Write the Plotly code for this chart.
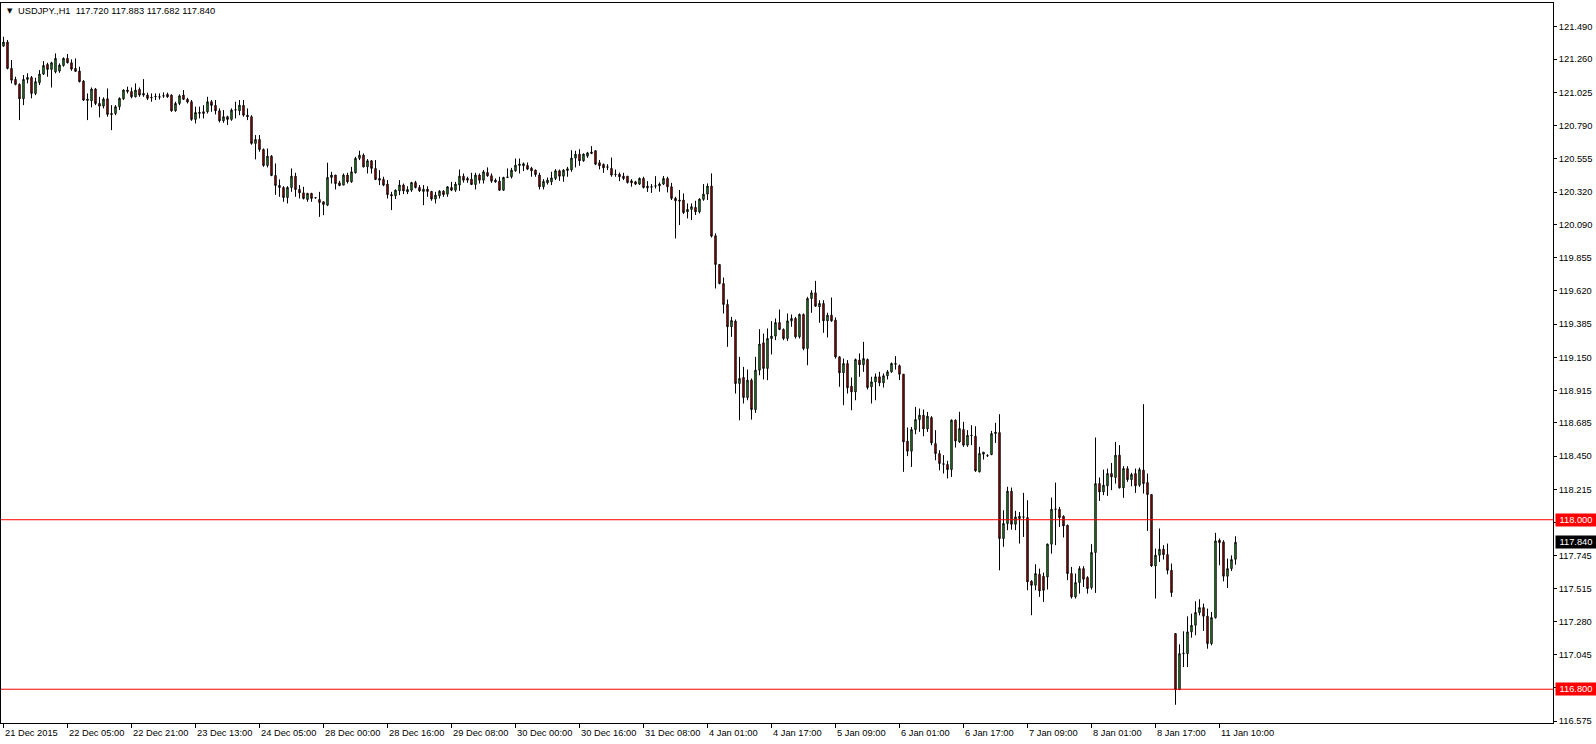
import plotly.graph_objects as go

# ---- data (USDJPY H1) ----
opens = [121.353,121.382,121.195,121.117,121.082,120.980,121.117,121.131,121.018,121.094,
121.155,121.223,121.188,121.171,121.176,121.216,121.266,121.235,121.195,121.176,
121.105,120.968,120.966,121.049,120.947,120.928,120.980,120.876,120.876,120.924,
120.980,121.042,121.032,120.994,121.046,121.018,121.006,120.990,120.994,120.994,
120.999,121.011,121.006,120.895,120.947,121.006,120.976,120.959,120.834,120.876,
120.888,120.888,120.959,120.933,120.895,120.824,120.853,120.834,120.900,120.895,
120.933,120.864,120.853,120.664,120.692,120.621,120.508,120.574,120.437,120.366,
120.352,120.281,120.352,120.432,120.338,120.314,120.267,120.310,120.280,120.267,
120.251,120.227,120.423,120.440,120.385,120.369,120.440,120.392,120.456,120.558,
120.581,120.498,120.541,120.487,120.416,120.409,120.376,120.302,120.293,120.328,
120.369,120.321,120.333,120.387,120.352,120.324,120.340,120.324,120.270,120.293,
120.326,120.305,120.352,120.333,120.369,120.432,120.416,120.411,120.373,120.440,
120.404,120.458,120.435,120.404,120.397,120.333,120.423,120.428,120.470,120.508,
120.506,120.508,120.489,120.475,120.440,120.357,120.385,120.392,120.416,120.470,
120.432,120.472,120.477,120.560,120.588,120.541,120.574,120.593,120.612,120.527,
120.515,120.498,120.487,120.446,120.446,120.432,120.432,120.399,120.392,120.376,
120.416,120.361,120.357,120.364,120.364,120.376,120.416,120.357,120.275,120.263,
120.263,120.180,120.197,120.211,120.180,120.268,120.305,120.362,120.010,119.807,
119.672,119.524,119.366,119.406,118.964,119.007,118.865,118.988,118.780,119.059,
119.252,119.071,119.283,119.300,119.396,119.347,119.283,119.408,119.425,119.295,
119.453,119.212,119.566,119.606,119.507,119.531,119.408,119.448,119.413,119.153,
119.040,119.106,118.945,118.905,119.130,119.097,119.134,118.941,118.976,119.012,
118.969,119.019,119.047,119.106,119.090,119.030,118.556,118.485,118.638,118.709,
118.740,118.643,118.723,118.539,118.468,118.396,118.391,118.355,118.705,118.551,
118.638,118.528,118.598,118.591,118.339,118.464,118.452,118.461,118.610,118.617,
117.867,117.973,118.202,117.968,118.008,118.018,118.015,117.565,117.536,117.614,
117.600,117.595,117.827,118.074,118.074,118.025,117.961,117.619,117.454,117.555,
117.654,117.591,117.520,117.768,118.256,118.197,118.240,118.327,118.299,118.457,
118.226,118.362,118.284,118.327,118.244,118.351,118.263,118.178,117.673,117.749,
117.791,117.753,117.642,117.194,116.797,117.052,117.052,117.206,117.253,117.343,
117.378,117.317,117.123,117.307,117.855,117.843,117.600,117.654,117.720]

highs = [121.419,121.396,121.254,121.136,121.089,121.148,121.160,121.141,121.129,121.183,
121.247,121.235,121.242,121.301,121.230,121.273,121.297,121.259,121.266,121.207,
121.112,121.018,121.060,121.056,120.994,120.990,121.053,120.935,120.935,120.990,
121.046,121.065,121.060,121.089,121.060,121.119,121.023,121.018,121.018,121.018,
121.025,121.023,121.011,120.959,121.011,121.042,120.987,120.971,120.924,120.924,
120.935,120.994,120.971,120.971,120.912,120.900,120.860,120.912,120.959,120.971,
120.971,120.912,120.864,120.723,120.723,120.628,120.628,120.581,120.522,120.409,
120.361,120.361,120.487,120.456,120.369,120.357,120.314,120.314,120.283,120.321,
120.251,120.527,120.463,120.440,120.399,120.451,120.456,120.498,120.569,120.612,
120.593,120.553,120.546,120.546,120.475,120.428,120.404,120.321,120.338,120.404,
120.380,120.361,120.392,120.399,120.369,120.369,120.361,120.328,120.321,120.333,
120.333,120.361,120.392,120.392,120.479,120.451,120.428,120.456,120.456,120.451,
120.475,120.494,120.451,120.416,120.428,120.428,120.487,120.491,120.557,120.557,
120.529,120.529,120.498,120.479,120.456,120.411,120.423,120.463,120.482,120.479,
120.482,120.498,120.616,120.612,120.623,120.593,120.604,120.645,120.616,120.546,
120.522,120.517,120.564,120.479,120.458,120.456,120.432,120.411,120.399,120.423,
120.428,120.397,120.376,120.432,120.388,120.433,120.428,120.385,120.286,120.334,
120.310,120.239,120.239,120.258,120.275,120.376,120.381,120.452,120.027,119.810,
119.715,119.559,119.436,119.417,119.153,119.082,119.063,119.000,119.153,119.349,
119.318,119.354,119.406,119.425,119.488,119.354,119.460,119.453,119.436,119.460,
119.460,119.578,119.625,119.691,119.554,119.554,119.465,119.573,119.432,119.158,
119.141,119.130,119.007,119.141,119.177,119.259,119.141,119.012,119.035,119.047,
119.035,119.059,119.113,119.158,119.099,119.030,118.653,118.657,118.799,118.787,
118.780,118.763,118.733,118.634,118.492,118.457,118.417,118.710,118.710,118.764,
118.693,118.634,118.669,118.662,118.516,118.480,118.464,118.629,118.686,118.747,
118.067,118.233,118.228,118.063,118.055,118.190,118.138,117.572,117.685,117.654,
117.626,117.831,118.157,118.263,118.091,118.030,117.965,117.666,117.619,117.671,
117.671,117.600,117.827,118.582,118.299,118.355,118.362,118.402,118.551,118.528,
118.379,118.379,118.332,118.362,118.369,118.818,118.327,118.182,117.796,117.938,
117.820,117.831,117.690,117.198,117.118,117.210,117.316,117.335,117.423,117.437,
117.406,117.371,117.347,117.907,117.867,117.855,117.725,117.748,117.883]

lows = [121.348,121.188,121.089,121.075,120.829,120.935,121.089,120.983,121.006,121.077,
121.148,121.136,121.060,121.160,121.164,121.207,121.230,121.178,121.171,121.096,
120.964,120.829,120.919,120.935,120.848,120.912,120.853,120.758,120.864,120.900,
120.971,121.018,120.983,120.990,120.994,120.994,120.971,120.959,120.971,120.975,
120.987,120.987,120.888,120.888,120.935,120.971,120.947,120.824,120.805,120.841,
120.841,120.876,120.888,120.869,120.813,120.810,120.794,120.824,120.841,120.864,
120.853,120.829,120.655,120.551,120.605,120.498,120.494,120.432,120.300,120.286,
120.251,120.239,120.321,120.286,120.274,120.267,120.251,120.251,120.274,120.144,
120.156,120.220,120.380,120.338,120.361,120.369,120.380,120.385,120.451,120.546,
120.494,120.451,120.451,120.404,120.369,120.361,120.274,120.192,120.270,120.298,
120.305,120.305,120.321,120.345,120.321,120.227,120.286,120.258,120.239,120.274,
120.286,120.286,120.326,120.321,120.328,120.387,120.385,120.369,120.338,120.380,
120.380,120.428,120.385,120.385,120.328,120.328,120.418,120.416,120.463,120.451,
120.468,120.475,120.428,120.428,120.338,120.338,120.373,120.369,120.404,120.399,
120.392,120.428,120.463,120.494,120.506,120.534,120.562,120.588,120.510,120.480,
120.456,120.475,120.428,120.428,120.397,120.404,120.380,120.357,120.369,120.369,
120.345,120.321,120.314,120.345,120.322,120.369,120.317,120.263,119.991,120.086,
120.164,120.133,120.121,120.157,120.168,120.258,120.263,119.998,119.637,119.667,
119.460,119.224,119.295,118.893,118.704,118.823,118.846,118.709,118.756,119.023,
118.993,118.988,119.170,119.271,119.342,119.271,119.266,119.366,119.283,119.283,
119.200,119.094,119.465,119.507,119.394,119.323,119.290,119.401,119.141,118.941,
118.811,118.893,118.775,118.846,119.012,119.047,118.922,118.823,118.846,118.945,
118.936,118.993,119.040,119.063,118.988,118.339,118.450,118.374,118.605,118.622,
118.591,118.622,118.527,118.421,118.350,118.327,118.292,118.303,118.511,118.544,
118.516,118.516,118.528,118.339,118.335,118.426,118.445,118.457,118.544,117.642,
117.808,117.926,117.930,117.926,117.831,117.878,117.501,117.324,117.501,117.454,
117.418,117.506,117.760,117.820,117.949,117.874,117.572,117.442,117.442,117.477,
117.524,117.477,117.506,117.482,118.133,118.174,118.169,118.209,118.256,118.221,
118.155,118.268,118.237,118.190,118.233,118.185,117.921,117.666,117.442,117.701,
117.718,117.614,117.454,116.690,116.795,116.957,116.957,117.165,117.182,117.323,
117.213,117.087,117.111,117.300,117.678,117.564,117.517,117.637,117.682]

closes = [121.382,121.195,121.112,121.082,120.980,121.117,121.131,121.018,121.101,121.155,
121.216,121.188,121.235,121.266,121.219,121.266,121.235,121.190,121.174,121.101,
120.971,120.978,121.049,120.947,120.928,120.978,120.869,120.869,120.924,120.983,
121.042,121.032,120.994,121.042,121.006,121.006,120.983,120.987,120.996,120.992,
121.001,120.994,120.895,120.947,121.001,120.976,120.957,120.834,120.883,120.883,
120.876,120.959,120.933,120.895,120.824,120.853,120.834,120.900,120.902,120.935,
120.864,120.853,120.664,120.692,120.621,120.508,120.574,120.437,120.366,120.352,
120.281,120.352,120.432,120.338,120.314,120.274,120.310,120.274,120.279,120.246,
120.232,120.423,120.440,120.380,120.366,120.440,120.392,120.463,120.558,120.581,
120.498,120.541,120.487,120.409,120.404,120.369,120.302,120.293,120.333,120.369,
120.328,120.338,120.387,120.352,120.328,120.340,120.324,120.270,120.298,120.326,
120.302,120.357,120.333,120.376,120.432,120.404,120.404,120.373,120.440,120.404,
120.463,120.435,120.397,120.392,120.333,120.423,120.426,120.475,120.510,120.517,
120.520,120.482,120.470,120.444,120.357,120.395,120.404,120.420,120.470,120.432,
120.475,120.484,120.560,120.588,120.541,120.588,120.597,120.602,120.517,120.506,
120.491,120.496,120.440,120.444,120.428,120.416,120.387,120.385,120.376,120.416,
120.352,120.350,120.355,120.362,120.376,120.416,120.357,120.275,120.258,120.256,
120.175,120.197,120.216,120.180,120.270,120.305,120.362,120.008,119.807,119.672,
119.524,119.366,119.410,118.964,119.000,118.865,118.988,118.780,119.059,119.243,
119.071,119.283,119.300,119.396,119.347,119.283,119.408,119.425,119.295,119.453,
119.212,119.566,119.606,119.512,119.531,119.408,119.448,119.408,119.153,119.040,
119.106,118.934,118.905,119.134,119.097,119.141,118.936,118.976,119.012,118.969,
119.019,119.047,119.106,119.101,119.030,118.551,118.485,118.638,118.709,118.740,
118.643,118.733,118.544,118.468,118.398,118.393,118.355,118.705,118.558,118.645,
118.528,118.598,118.596,118.346,118.469,118.478,118.454,118.610,118.620,117.867,
117.973,118.202,117.968,118.020,118.025,118.020,117.560,117.536,117.619,117.496,
117.501,117.827,118.074,118.076,118.015,117.956,117.619,117.454,117.555,117.654,
117.579,117.513,117.768,118.256,118.197,118.244,118.327,118.303,118.457,118.226,
118.362,118.284,118.320,118.240,118.355,118.256,118.178,117.673,117.749,117.791,
117.753,117.642,117.484,116.797,117.052,117.055,117.206,117.253,117.343,117.378,
117.317,117.123,117.307,117.850,117.838,117.600,117.654,117.718,117.840]

time_labels = ["21 Dec 2015", "22 Dec 05:00", "22 Dec 21:00", "23 Dec 13:00", "24 Dec 05:00",
               "28 Dec 00:00", "28 Dec 16:00", "29 Dec 08:00", "30 Dec 00:00", "30 Dec 16:00",
               "31 Dec 08:00", "4 Jan 01:00", "4 Jan 17:00", "5 Jan 09:00", "6 Jan 01:00",
               "6 Jan 17:00", "7 Jan 09:00", "8 Jan 01:00", "8 Jan 17:00", "11 Jan 10:00"]
label_step = 16
price_ticks = ["121.490", "121.260", "121.025", "120.790", "120.555", "120.320", "120.090",
               "119.855", "119.620", "119.385", "119.150", "118.915", "118.685", "118.450",
               "118.215", "117.980", "117.745", "117.515", "117.280", "117.045", "116.810", "116.575"]
level_lines = [118.000, 116.800]
symbol = "USDJPY.,H1"
last_bar = dict(o=117.720, h=117.883, l=117.682, c=117.840)

FONT = "Liberation Sans"
FS = 9.3
BULL = "#3cc43c"
BEAR = "#e80000"

idx = list(range(len(opens)))
fig = go.Figure()
fig.add_trace(go.Candlestick(
    x=idx, open=opens, high=highs, low=lows, close=closes,
    increasing=dict(line=dict(color="black", width=1), fillcolor=BULL),
    decreasing=dict(line=dict(color="black", width=1), fillcolor=BEAR),
    whiskerwidth=0, hoverinfo="skip", showlegend=False,
))

tick_idx = [i * label_step for i in range(len(time_labels))]

annotations = []
for ti, lab in zip(tick_idx, time_labels):
    annotations.append(dict(x=ti, y=0, xref="x", yref="paper", text=lab, showarrow=False,
                            xanchor="left", yanchor="top", xshift=-1, yshift=-3,
                            font=dict(family=FONT, size=FS, color="black")))

# level labels on the price axis
for lv in level_lines:
    annotations.append(dict(x=1, y=lv, xref="paper", yref="y", text=f"{lv:.3f}", showarrow=False,
                            xanchor="left", yanchor="middle", xshift=2, width=38, height=10,
                            align="center", bgcolor="#ff0000", borderpad=1,
                            font=dict(family=FONT, size=FS, color="white")))
annotations.append(dict(x=1, y=last_bar["c"], xref="paper", yref="y", text=f"{last_bar['c']:.3f}",
                        showarrow=False, xanchor="left", yanchor="middle", xshift=2, width=38, height=10,
                        align="center", bgcolor="black", borderpad=1,
                        font=dict(family=FONT, size=FS, color="white")))

# header
annotations.append(dict(x=0, y=1, xref="paper", yref="paper", text="▼", showarrow=False,
                        xanchor="left", yanchor="middle", xshift=4, yshift=-8,
                        font=dict(family="DejaVu Sans", size=7, color="black")))
header = (f"{symbol}\u00a0\u00a0{last_bar['o']:.3f} {last_bar['h']:.3f} "
          f"{last_bar['l']:.3f} {last_bar['c']:.3f}")
annotations.append(dict(x=0, y=1, xref="paper", yref="paper", text=header, showarrow=False,
                        xanchor="left", yanchor="middle", xshift=15, yshift=-8,
                        font=dict(family=FONT, size=FS, color="black")))

shapes = [dict(type="line", xref="paper", x0=0, x1=1, yref="y", y0=lv, y1=lv,
               line=dict(color="#ff0000", width=1), layer="above") for lv in level_lines]

fig.update_layout(
    width=1596, height=744,
    margin=dict(l=1, r=43, t=3, b=21, pad=0),
    paper_bgcolor="white", plot_bgcolor="white",
    boxgap=0.5,
    showlegend=False,
    annotations=annotations,
    shapes=shapes,
    xaxis=dict(range=[-0.625, 387.375], showgrid=False, zeroline=False,
               showline=True, linecolor="black", linewidth=1, mirror=True,
               ticks="outside", ticklen=4, tickcolor="black", tickwidth=1,
               tickvals=tick_idx, showticklabels=False,
               rangeslider=dict(visible=False), fixedrange=True),
    yaxis=dict(range=[116.561, 121.658], side="right", showgrid=False, zeroline=False,
               showline=True, linecolor="black", linewidth=1, mirror=True,
               ticks="outside", ticklen=3, tickcolor="black", tickwidth=1,
               tickvals=[float(t) for t in price_ticks], ticktext=price_ticks,
               tickfont=dict(family=FONT, size=FS, color="black"), fixedrange=True),
    hovermode=False,
)

fig.write_html("out.html",
               config={"displayModeBar": False, "staticPlot": True},
               post_script="document.body.style.margin='0';document.body.style.padding='0';"
                           "document.body.style.overflow='hidden';")
